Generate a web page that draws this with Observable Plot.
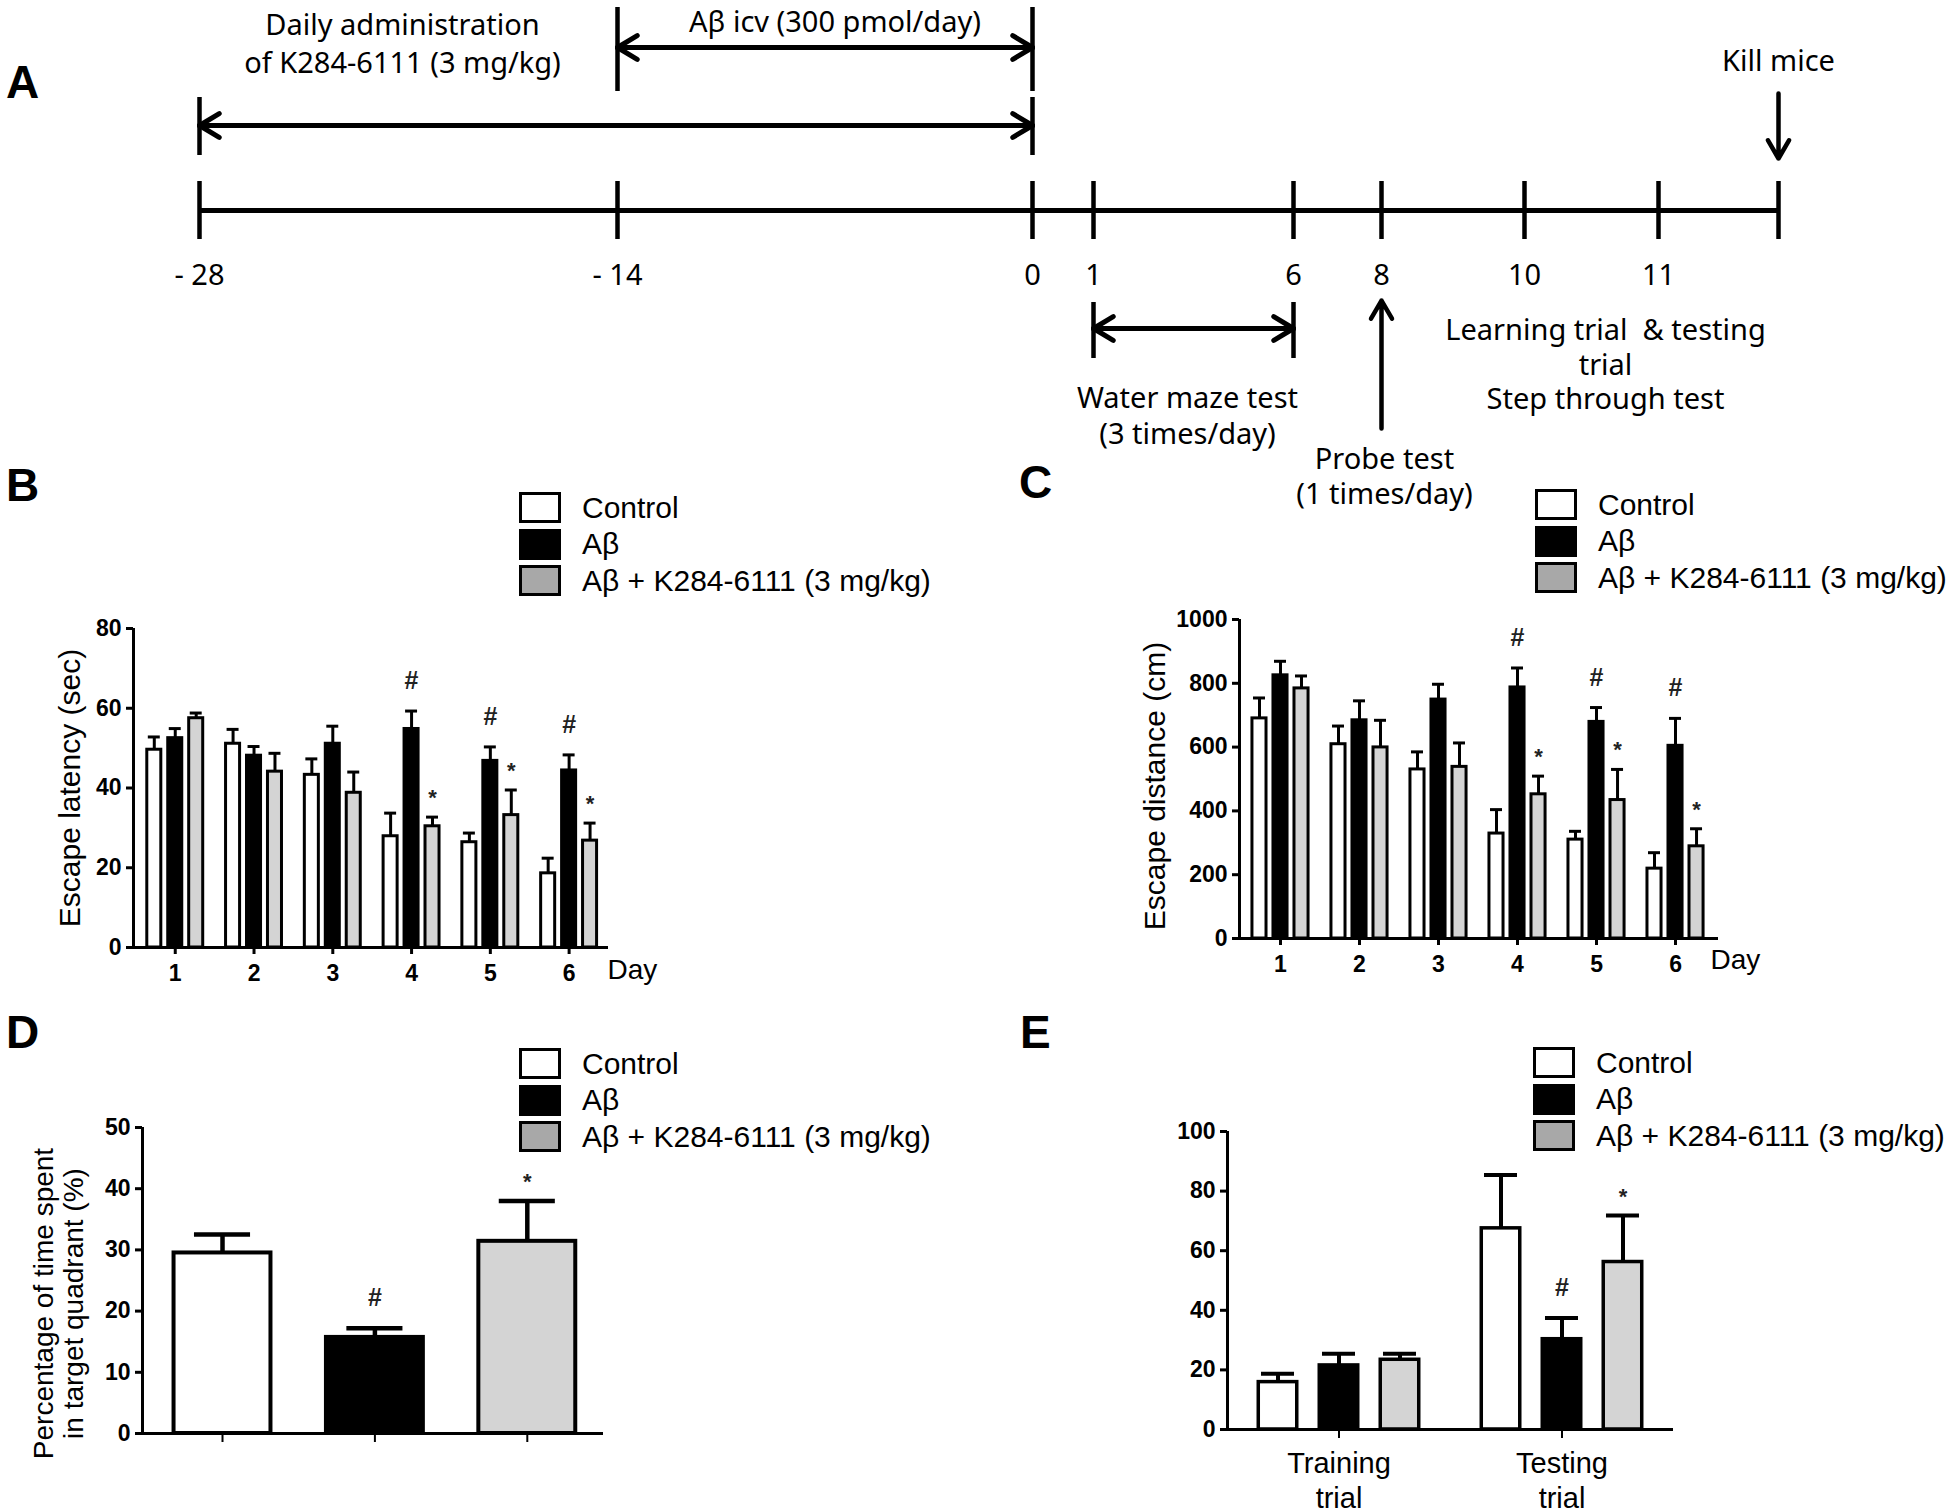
<!DOCTYPE html>
<html><head><meta charset="utf-8">
<script src="https://cdn.jsdelivr.net/npm/d3@7"></script>
<script src="https://cdn.jsdelivr.net/npm/@observablehq/plot@0.6"></script>
<style>
html,body{margin:0;padding:0;background:#fff;}
#fig{position:relative;width:1946px;height:1511px;overflow:hidden;background:#fff;}
.panel{position:absolute;}
.panel svg{background:transparent !important;overflow:visible;max-width:none !important;}
.letter{position:absolute;font:bold 46px/1 "Liberation Sans",Arial,sans-serif;}
.legend{position:absolute;display:flex;flex-direction:column;gap:5.5px;}
.legend .row{display:flex;align-items:center;height:31px;}
.legend .sw{box-sizing:border-box;width:42px;height:31px;border:3px solid #000;margin-right:21px;flex:none;}
.legend .lab{font:30px/1 "Liberation Sans",Arial,sans-serif;white-space:nowrap;}
</style></head><body><div id="fig"></div><script>
// ---------------- data ----------------
const groups = ["Control", "Aβ", "Aβ + K284-6111 (3 mg/kg)"];

// Panel A : schedule
const timelineDays = [-28, -14, 0, 1, 6, 8, 10, 11];
const timelineLabels = ["- 28", "- 14", "0", "1", "6", "8", "10", "11"];
const killDay = 12;
const phaseNames = ["Daily administration\nof K284-6111 (3 mg/kg)", "Aβ icv (300 pmol/day)", "Water maze test\n(3 times/day)"];
const phaseStart = [-28, -14, 1];
const phaseEnd = [0, 0, 6];
const eventNames = ["Probe test\n(1 times/day)", "Learning trial  & testing\ntrial\nStep through test", "Kill mice"];
const eventStart = [8, 10, killDay];
const eventEnd = [8, 11, killDay];

// Panel B : escape latency (sec)
const days = [1, 2, 3, 4, 5, 6];
const latencyControl = [49.6, 51.1, 43.3, 27.9, 26.4, 18.6];
const latencyControlSEM = [3.2, 3.6, 4.0, 5.8, 2.3, 3.8];
const latencyAb = [52.5, 48.1, 51.1, 54.8, 46.8, 44.4];
const latencyAbSEM = [2.4, 2.3, 4.4, 4.5, 3.5, 3.9];
const latencyK = [57.5, 44.1, 38.8, 30.4, 33.2, 26.8];
const latencyKSEM = [1.3, 4.6, 5.2, 2.3, 6.3, 4.4];
const latencySig = [[4, 1, "#"], [5, 1, "#"], [6, 1, "#"], [4, 2, "*"], [5, 2, "*"], [6, 2, "*"]];

// Panel C : escape distance (cm)
const distanceControl = [690, 609, 530, 329, 310, 219];
const distanceControlSEM = [64, 57, 55, 75, 26, 50];
const distanceAb = [825, 684, 749, 787, 679, 604];
const distanceAbSEM = [44, 61, 48, 61, 45, 86];
const distanceK = [784, 599, 538, 452, 434, 289];
const distanceKSEM = [39, 85, 75, 57, 96, 55];
const distanceSig = [[4, 1, "#"], [5, 1, "#"], [6, 1, "#"], [4, 2, "*"], [5, 2, "*"], [6, 2, "*"]];

// Panel D : probe test (% time in target quadrant)
const probeValues = [29.5, 15.7, 31.4];
const probeSEM = [3.0, 1.5, 6.6];
const probeSig = [[1, 1, "#"], [1, 2, "*"]];

// Panel E : step through test
const trials = ["Training\ntrial", "Testing\ntrial"];
const stepControl = [15.9, 67.5];
const stepControlSEM = [2.8, 17.9];
const stepAb = [21.5, 30.3];
const stepAbSEM = [3.9, 7.1];
const stepK = [23.4, 56.2];
const stepKSEM = [2.0, 15.6];
const stepSig = [[2, 1, "#"], [2, 2, "*"]];

// ---------------- styles / layout ----------------
const barFill = ["#ffffff", "#000000", "#d4d4d4"];
const legendFill = ["#ffffff", "#000000", "#a8a8a8"];
const SANS = "Liberation Sans, Arial, sans-serif";
const fig = document.getElementById("fig");

function place(node, left, top, w, h) {
  const d = document.createElement("div");
  d.className = "panel";
  Object.assign(d.style, {left: left + "px", top: top + "px", width: w + "px", height: h + "px"});
  d.appendChild(node);
  fig.appendChild(d);
}
function letter(t, left, top) {
  const d = document.createElement("div");
  d.className = "letter"; d.textContent = t;
  d.style.left = left + "px"; d.style.top = top + "px";
  fig.appendChild(d);
}
function legend(left, top) {
  const d = document.createElement("div");
  d.className = "legend"; d.style.left = left + "px"; d.style.top = top + "px";
  groups.forEach((g, i) => {
    const r = document.createElement("div"); r.className = "row";
    const sw = document.createElement("span"); sw.className = "sw"; sw.style.background = legendFill[i];
    const t = document.createElement("span"); t.className = "lab"; t.textContent = g;
    r.append(sw, t); d.append(r);
  });
  fig.appendChild(d);
}

// ---------------- Panel A ----------------
{
  const TL = "Noto Sans, DejaVu Sans, sans-serif";
  const FS = 29;
  // label position: which day span the label is centred on, plus a small pixel nudge
  const phaseLayout = [
    {arrowY: 125, barY1: 97, barY2: 155, labelFrom: -28, labelTo: -14, labelY: 41, labelDx: -6, lh: 1.33},
    {arrowY: 47, barY1: 7, barY2: 91, labelFrom: -14, labelTo: 0, labelY: 19, labelDx: 10, lh: 1.3},
    {arrowY: 328, barY1: 302, barY2: 358, labelFrom: 1, labelTo: 6, labelY: 414, labelDx: -6, lh: 1.22}
  ];
  const timeline = {y: 210, tickY1: 181, tickY2: 239, labelY: 275};
  const eventLayout = [
    {arrow: {y1: 428, y2: 300}, labelY: 475, labelDx: 3},
    {arrow: null, labelY: 363, labelDx: 14},
    {arrow: {y1: 93, y2: 158}, labelY: 59, labelDx: 0}
  ];
  const phases = phaseNames.map((name, i) => ({name, start: phaseStart[i], end: phaseEnd[i], ...phaseLayout[i]}));
  const events = eventNames.map((name, i) => ({name, start: eventStart[i], end: eventEnd[i], ...eventLayout[i]}));
  const marks = [
    Plot.ruleY([{x1: timelineDays[0], x2: killDay}], {x1: "x1", x2: "x2", y: () => timeline.y, strokeWidth: 5}),
    Plot.ruleX([...timelineDays, killDay], {x: d => d, y1: () => timeline.tickY1, y2: () => timeline.tickY2, strokeWidth: 4.5}),
    Plot.text(timelineDays, {x: d => d, y: () => timeline.labelY, text: (d, i) => timelineLabels[i], fontSize: FS, fontFamily: TL}),
    Plot.ruleX(phases.flatMap(p => [{x: p.start, y1: p.barY1, y2: p.barY2}, {x: p.end, y1: p.barY1, y2: p.barY2}]),
      {x: "x", y1: "y1", y2: "y2", strokeWidth: 4.5}),
    Plot.arrow(phases.flatMap(p => [{x1: p.start, x2: p.end, y: p.arrowY}, {x1: p.end, x2: p.start, y: p.arrowY}]),
      {x1: "x1", x2: "x2", y1: "y", y2: "y", strokeWidth: 5, headLength: 6.9, headAngle: 62}),
    ...phases.map(p => Plot.text([p], {x: d => (d.labelFrom + d.labelTo) / 2, y: "labelY", text: "name", dx: p.labelDx, lineHeight: p.lh, fontSize: FS, fontFamily: TL})),
    Plot.arrow(events.filter(e => e.arrow), {x1: "start", x2: "start", y1: d => d.arrow.y1, y2: d => d.arrow.y2, strokeWidth: 4.5, headLength: 7, headAngle: 60}),
    ...events.map(e => Plot.text([e], {x: d => (d.start + d.end) / 2, y: "labelY", text: "name", dx: e.labelDx, lineHeight: 1.2, fontSize: FS, fontFamily: TL}))
  ];
  const svg = Plot.plot({
    width: 1946, height: 520, marginTop: 0, marginBottom: 0, marginLeft: 0, marginRight: 0,
    x: {type: "linear", domain: [...timelineDays, killDay], range: [199, 617, 1032, 1093, 1293, 1381, 1524, 1658, 1778], axis: null},
    y: {type: "linear", domain: [0, 520], range: [0, 520], axis: null},
    style: {background: "transparent", overflow: "visible"},
    marks
  });
  place(svg, 0, 0, 1946, 520);
}

// ---------------- bar chart builder ----------------
function barPlot(cfg) {
  const rows = [];
  cfg.series.forEach((vals, gi) => vals.forEach((v, ci) => rows.push({ci: ci + 1, gi, v, e: v + cfg.sems[gi][ci]})));
  const cx = cfg.cx;
  const sigRows = cfg.sig.map(([ci, gi, sym]) => {
    const r = rows.find(d => d.ci === ci && d.gi === gi);
    return {...r, sym};
  });
  const marks = [
    Plot.ruleX(rows, {x: cx, y1: "v", y2: "e", strokeWidth: cfg.errStroke}),
    Plot.ruleY(rows, {y: "e", x1: d => cx(d) - cfg.capHw, x2: d => cx(d) + cfg.capHw, strokeWidth: cfg.errStroke}),
    ...groups.map((g, gi) => Plot.rect(rows.filter(r => r.gi === gi),
      {x1: d => cx(d) - cfg.hw, x2: d => cx(d) + cfg.hw, y1: () => 0, y2: "v", fill: barFill[gi], stroke: "#000", strokeWidth: cfg.barStroke})),
    Plot.ruleY([cfg.yDomain[0]], {strokeWidth: 3}),
    Plot.ruleX([cfg.xDomain[0]], {strokeWidth: 3}),
    Plot.axisY({ticks: cfg.yTicks, tickFormat: d => String(d), tickSize: 7, tickPadding: 5, strokeWidth: 3,
      fontSize: 23, fontWeight: "bold", fontFamily: SANS, label: null}),
    Plot.axisX({ticks: cfg.xTicks, tickSize: cfg.xTickSize, tickPadding: cfg.xTickPadding, strokeWidth: cfg.xTickStroke,
      tickFormat: cfg.xTickFormat, fontSize: cfg.xFontSize, fontWeight: cfg.xFontWeight, fontFamily: SANS, lineHeight: 1.2, label: null}),
    Plot.text(sigRows.filter(d => d.sym === "#"), {x: cx, y: "e", text: "sym", dy: -30, fontSize: 25, fontFamily: SANS, fill: "#222"}),
    Plot.text(sigRows.filter(d => d.sym === "*"), {x: cx, y: "e", text: "sym", dy: -19, fontSize: 22, fontFamily: SANS, fill: "#222"})
  ];
  if (cfg.yLabel) marks.push(Plot.text([cfg.yLabel], {text: d => d, frameAnchor: "left", textAnchor: "middle", lineAnchor: "middle",
    rotate: -90, dx: cfg.yLabelDx, dy: cfg.yLabelDy,
    fontSize: cfg.yLabelSize, fontFamily: SANS, fontWeight: "normal", lineHeight: cfg.yLabelLh || 1.1}));
  if (cfg.dayLabel) marks.push(Plot.text([cfg.dayLabel], {text: d => d, frameAnchor: "bottom-right", textAnchor: "start", lineAnchor: "middle",
    dx: cfg.dayDx, dy: cfg.dayDy, fontSize: 28, fontFamily: SANS, fontWeight: "normal"}));
  const svg = Plot.plot({
    width: cfg.width, height: cfg.height,
    marginTop: cfg.mt, marginBottom: cfg.mb, marginLeft: cfg.ml, marginRight: cfg.mr,
    x: {type: "linear", domain: cfg.xDomain},
    y: {type: "linear", domain: cfg.yDomain},
    style: {background: "transparent", overflow: "visible", fontFamily: SANS, fontSize: "23px", fontWeight: "bold", color: "#000"},
    marks
  });
  place(svg, cfg.left, cfg.top, cfg.width, cfg.height);
}

// Panel B
barPlot({
  left: 0, top: 560, width: 700, height: 440, mt: 68, mb: 53, ml: 133, mr: 92,
  series: [latencyControl, latencyAb, latencyK], sems: [latencyControlSEM, latencyAbSEM, latencyKSEM], sig: latencySig,
  cx: d => d.ci + [-0.266, 0, 0.266][d.gi], hw: 0.089, capHw: 0.076, barStroke: 3, errStroke: 3,
  xDomain: [0.47, 6.5], yDomain: [0, 80], yTicks: [0, 20, 40, 60, 80],
  xTicks: days, xTickSize: 7, xTickPadding: 7, xTickStroke: 3, xTickFormat: d => String(days[d - 1]), xFontSize: 23, xFontWeight: "bold",
  yLabel: "Escape latency (sec)", yLabelSize: 30, yLabelDx: -64, yLabelDy: 0,
  dayLabel: "Day", dayDx: -1, dayDy: 23
});

// Panel C
barPlot({
  left: 1100, top: 560, width: 846, height: 440, mt: 59, mb: 62, ml: 139, mr: 228,
  series: [distanceControl, distanceAb, distanceK], sems: [distanceControlSEM, distanceAbSEM, distanceKSEM], sig: distanceSig,
  cx: d => d.ci + [-0.266, 0, 0.266][d.gi], hw: 0.089, capHw: 0.076, barStroke: 3, errStroke: 3,
  xDomain: [0.481, 6.544], yDomain: [0, 1000], yTicks: [0, 200, 400, 600, 800, 1000],
  xTicks: days, xTickSize: 7, xTickPadding: 7, xTickStroke: 3, xTickFormat: d => String(days[d - 1]), xFontSize: 23, xFontWeight: "bold",
  yLabel: "Escape distance (cm)", yLabelSize: 30, yLabelDx: -85, yLabelDy: 7,
  dayLabel: "Day", dayDx: -8, dayDy: 22
});

// Panel D
barPlot({
  left: 0, top: 1050, width: 700, height: 461, mt: 77, mb: 78, ml: 142, mr: 97,
  series: probeValues.map(v => [v]), sems: probeSEM.map(v => [v]), sig: probeSig,
  cx: d => d.gi + 1, hw: 0.318, capHw: 0.184, barStroke: 4, errStroke: 4.5,
  xDomain: [0.475, 3.5], yDomain: [0, 50], yTicks: [0, 10, 20, 30, 40, 50],
  xTicks: [1, 2, 3], xTickSize: 9, xTickPadding: 4, xTickStroke: 2, xTickFormat: () => "", xFontSize: 21, xFontWeight: "bold",
  yLabel: "Percentage of time spent\nin target quadrant (%)", yLabelSize: 28, yLabelLh: 1.07, yLabelDx: -84, yLabelDy: 23
});

// Panel E
barPlot({
  left: 1100, top: 1050, width: 846, height: 461, mt: 81, mb: 82, ml: 127, mr: 273,
  series: [stepControl, stepAb, stepK], sems: [stepControlSEM, stepAbSEM, stepKSEM], sig: stepSig,
  cx: d => d.ci + [-0.2735, 0, 0.2735][d.gi], hw: 0.0863, capHw: 0.074, barStroke: 3.5, errStroke: 4,
  xDomain: [0.5, 2.5], yDomain: [0, 100], yTicks: [0, 20, 40, 60, 80, 100],
  xTicks: [1, 2], xTickSize: 9, xTickPadding: 10, xTickStroke: 2, xTickFormat: d => trials[d - 1], xFontSize: 29, xFontWeight: "normal"
});

// legends and panel letters
legend(519, 492); legend(1535, 489); legend(519, 1048); legend(1533, 1047);
letter("A", 6, 59); letter("B", 6, 462); letter("C", 1019, 459); letter("D", 6, 1009); letter("E", 1020, 1009);
</script></body></html>
